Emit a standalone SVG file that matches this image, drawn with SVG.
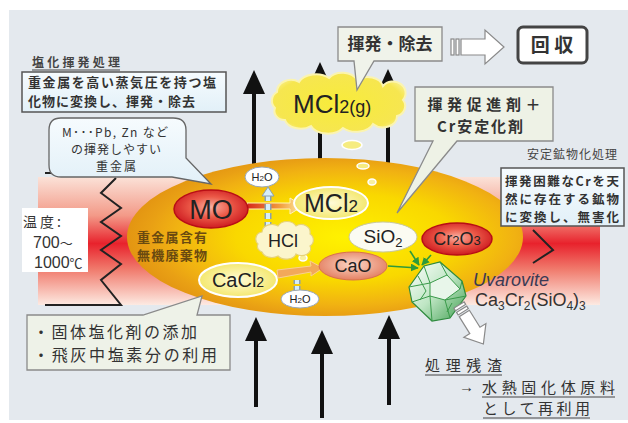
<svg xmlns="http://www.w3.org/2000/svg" width="628" height="423" viewBox="0 0 628 423">
  <defs>
    <linearGradient id="heat" x1="0" y1="0" x2="0" y2="1">
      <stop offset="0" stop-color="#fbe2d8"/>
      <stop offset="0.3" stop-color="#f39a88"/>
      <stop offset="0.52" stop-color="#e8222c"/>
      <stop offset="0.72" stop-color="#f07a6c"/>
      <stop offset="1" stop-color="#fdeae2"/>
    </linearGradient>
    <radialGradient id="furnace" cx="0.55" cy="0.5" r="0.55">
      <stop offset="0" stop-color="#fff200"/>
      <stop offset="0.5" stop-color="#f9d800"/>
      <stop offset="0.78" stop-color="#f1b212"/>
      <stop offset="0.9" stop-color="#e9a014"/>
      <stop offset="1" stop-color="#e39512"/>
    </radialGradient>
    <radialGradient id="red" cx="0.5" cy="0.45" r="0.6">
      <stop offset="0" stop-color="#f9b2a4"/>
      <stop offset="0.45" stop-color="#ec5a48"/>
      <stop offset="1" stop-color="#c8101a"/>
    </radialGradient>
    <radialGradient id="salmon" cx="0.5" cy="0.45" r="0.6">
      <stop offset="0" stop-color="#fbd6c6"/>
      <stop offset="1" stop-color="#e2795a"/>
    </radialGradient>
    <radialGradient id="pale" cx="0.5" cy="0.5" r="0.6">
      <stop offset="0" stop-color="#fffbd8"/>
      <stop offset="1" stop-color="#f2e45a"/>
    </radialGradient>
    <radialGradient id="cloudY" cx="0.5" cy="0.5" r="0.6">
      <stop offset="0" stop-color="#f8ec3a"/>
      <stop offset="0.8" stop-color="#f6e650"/>
      <stop offset="1" stop-color="#fbf3a0"/>
    </radialGradient>
    <linearGradient id="moArrow" x1="0" y1="0" x2="1" y2="0">
      <stop offset="0" stop-color="#d6281a"/>
      <stop offset="0.6" stop-color="#f2a040"/>
      <stop offset="1" stop-color="#fff0a8"/>
    </linearGradient>
    <linearGradient id="blueBox" x1="0" y1="0" x2="0" y2="1">
      <stop offset="0" stop-color="#f6fbfe"/>
      <stop offset="1" stop-color="#e2f0f8"/>
    </linearGradient>
    <linearGradient id="crystal" x1="0" y1="0" x2="1" y2="1">
      <stop offset="0" stop-color="#ffffff"/>
      <stop offset="0.5" stop-color="#bfe6c4"/>
      <stop offset="1" stop-color="#3f9e50"/>
    </linearGradient>
    <marker id="greenHead" viewBox="0 0 10 10" refX="9" refY="5" markerWidth="5" markerHeight="5" orient="auto">
      <path d="M0,0 L10,5 L0,10 Z" fill="#2e9a3a"/>
    </marker>
    <style>
      .jp { font-family: "Noto Sans CJK JP", "Noto Sans", sans-serif; fill: #333; }
      .b { font-weight: bold; }
      .lat { font-family: "Liberation Sans", Arial, sans-serif; fill: #222; }
      .num { font-family: "Liberation Sans", "Noto Sans CJK JP", sans-serif; fill: #333; }
      .call { stroke: #8a8a8a; stroke-width: 1.3; }
      .box { stroke: #555; stroke-width: 1.5; }
      .flow { stroke: #111; stroke-width: 4; fill: none; }
      .head { fill: #111; }
      .green { stroke: #2e9a3a; stroke-width: 1.6; fill: none; marker-end: url(#greenHead); }
      .ul { stroke: #444; stroke-width: 1.2; }
      .vap { fill: none; stroke-linecap: butt; }
      .bub { stroke: #ffffff; stroke-width: 1.5; }
    </style>
  </defs>

  <!-- page -->
  <rect x="0" y="0" width="628" height="423" fill="#ffffff"/>
  <rect x="9" y="10" width="619" height="410" fill="#e4e9ee"/>

  <!-- heater band with its outline zigzags -->
  <g id="heater">
    <rect x="38" y="177" width="562" height="128" fill="url(#heat)"/>
    <polyline points="45,173 112,173" fill="none" stroke="#222" stroke-width="2"/>
    <polyline points="116,178 101,193 121,208 101,222 121,236 101,250 121,264 101,280 121,305 45,305" fill="none" stroke="#222" stroke-width="2"/>
    <polyline points="533,230 553,250 533,263" fill="none" stroke="#222" stroke-width="2"/>
  </g>

  <!-- heat flow arrows -->
  <g id="connectors">
    <line class="flow" x1="254" y1="92" x2="254" y2="165"/>
    <polygon class="head" points="254,70 243,94 265,94"/>
    <line class="flow" x1="320" y1="84" x2="320" y2="160"/>
    <polygon class="head" points="320,62 309,86 331,86"/>
    <line class="flow" x1="388" y1="90" x2="388" y2="165"/>
    <polygon class="head" points="388,69 377,93 399,93"/>

    <line class="flow" x1="256" y1="338" x2="256" y2="407"/>
    <polygon class="head" points="256,317 245,341 267,341"/>
    <line class="flow" x1="322" y1="351" x2="322" y2="418"/>
    <polygon class="head" points="322,330 311,354 333,354"/>
    <line class="flow" x1="389" y1="336" x2="389" y2="405"/>
    <polygon class="head" points="389,315 378,339 400,339"/>
  </g>

  <!-- furnace body -->
  <g id="furnace-body">
    <ellipse cx="325" cy="237" rx="198" ry="79" fill="url(#furnace)"/>
    <text class="jp b" x="172" y="242" font-size="13" text-anchor="middle" textLength="70" style="fill:#6a4a10">重金属含有</text>
    <text class="jp b" x="172" y="260" font-size="13" text-anchor="middle" textLength="70" style="fill:#6a4a10">無機廃棄物</text>
  </g>

  <!-- small rising bubbles -->
  <g id="bubbles">
    <ellipse class="bub" cx="352" cy="145" rx="10" ry="4.5" fill="#f6ec80"/>
    <ellipse class="bub" cx="363" cy="166" rx="6" ry="3" fill="#f6ec80"/>
    <ellipse class="bub" cx="372" cy="182" rx="4" ry="3" fill="#f8f0a0"/>
    <ellipse class="bub" cx="303" cy="258" rx="4" ry="3" fill="#f8f0a0"/>
  </g>

  <!-- reaction arrows inside the furnace -->
  <g id="reactions">
    <path d="M247,203 H290 V198 L303,206 L290,214 V209 H247 Z" fill="url(#moArrow)" stroke="#fff4b8" stroke-width="1"/>
    <path d="M277,270 L311,266 L310,261 L323,268 L311,276 L311,272 L278,278 Z" fill="#f2a85a" stroke="#f8d090" stroke-width="1"/>
    <g class="vap">
      <line x1="268" y1="228" x2="268" y2="194" stroke="#8aa0b0" stroke-width="7" stroke-dasharray="6 3"/>
      <line x1="268" y1="228" x2="268" y2="194" stroke="#d6eefa" stroke-width="4" stroke-dasharray="6 3"/>
      <polygon points="268,187 262,196 274,196" fill="#d6eefa" stroke="#8aa0b0" stroke-width="1"/>
      <line x1="297" y1="290" x2="297" y2="280" stroke="#8aa0b0" stroke-width="7" stroke-dasharray="4 2"/>
      <line x1="297" y1="290" x2="297" y2="280" stroke="#d6eefa" stroke-width="4" stroke-dasharray="4 2"/>
    </g>
    <line class="green" x1="388" y1="266" x2="418" y2="268"/>
    <line class="green" x1="410" y1="251" x2="419" y2="265"/>
    <line class="green" x1="431" y1="255" x2="422" y2="265"/>
  </g>

  <!-- species -->
  <g id="h2o-top">
    <ellipse cx="262" cy="177" rx="17" ry="10" fill="#ffffff" stroke="#9aa8b8" stroke-width="1"/>
    <text class="lat" x="262" y="181" font-size="11" text-anchor="middle">H<tspan font-size="8">2</tspan>O</text>
  </g>
  <g id="mo">
    <ellipse cx="211" cy="209" rx="37" ry="19" fill="url(#red)" stroke="#b80e16" stroke-width="1.5"/>
    <text class="lat" x="211" y="219" font-size="27" text-anchor="middle">MO</text>
  </g>
  <g id="mcl2">
    <ellipse cx="331" cy="203" rx="37" ry="16" fill="url(#pale)" stroke="#ffffff" stroke-width="2"/>
    <text class="lat" x="331" y="212" font-size="25" text-anchor="middle">MCl<tspan font-size="17">2</tspan></text>
  </g>
  <g id="hcl">
    <path d="M258,244 a7,7 0 0 1 4,-12 a10,8 0 0 1 16,-6 a10,8 0 0 1 18,0 a9,8 0 0 1 14,8 a7,7 0 0 1 0,12 a9,7 0 0 1 -14,8 a10,7 0 0 1 -18,2 a10,7 0 0 1 -16,-4 a7,6 0 0 1 -4,-8 Z" fill="#fbf5cc" stroke="#e6d27a" stroke-width="1.2"/>
    <text class="lat" x="283" y="247" font-size="18" text-anchor="middle">HCl</text>
  </g>
  <g id="cacl2">
    <ellipse cx="238" cy="280" rx="39" ry="17" fill="url(#pale)" stroke="#ffffff" stroke-width="2"/>
    <text class="lat" x="238" y="287" font-size="20" text-anchor="middle">CaCl<tspan font-size="14">2</tspan></text>
  </g>
  <g id="h2o-bottom">
    <ellipse cx="300" cy="299" rx="19" ry="9" fill="#ffffff" stroke="#9aa8b8" stroke-width="1"/>
    <text class="lat" x="300" y="303" font-size="11" text-anchor="middle">H<tspan font-size="8">2</tspan>O</text>
  </g>
  <g id="cao">
    <ellipse cx="353" cy="266" rx="34" ry="14" fill="url(#salmon)" stroke="#d9714e" stroke-width="1"/>
    <text class="lat" x="353" y="272" font-size="18" text-anchor="middle">CaO</text>
  </g>
  <g id="sio2">
    <ellipse cx="383" cy="237" rx="34" ry="15" fill="#fbfbf2" stroke="#c8c8a0" stroke-width="1"/>
    <text class="lat" x="383" y="243" font-size="19" text-anchor="middle">SiO<tspan font-size="13" dy="4">2</tspan></text>
  </g>
  <g id="cr2o3">
    <ellipse cx="457" cy="239" rx="35" ry="16" fill="url(#red)" stroke="#b80e16" stroke-width="1.5"/>
    <text class="lat" x="457" y="245" font-size="18" text-anchor="middle">Cr<tspan font-size="13">2</tspan>O<tspan font-size="13">3</tspan></text>
  </g>

  <!-- uvarovite crystal -->
  <g id="uvarovite">
    <polygon points="409,287 424,266 440,262 462,281 466,296 450,318 432,321 412,302" fill="url(#crystal)" stroke="#2e8a3e" stroke-width="1.2"/>
    <polygon points="430,283 447,275 460,289 445,300 430,296" fill="#e8f6ea" stroke="#3a9a4a" stroke-width="1"/>
    <g fill="none" stroke="#3a9a4a" stroke-width="1">
      <polyline points="424,266 430,283"/>
      <polyline points="440,262 447,275"/>
      <polyline points="462,281 460,289"/>
      <polyline points="466,296 445,300 450,318"/>
      <polyline points="432,321 430,296 412,302"/>
      <polyline points="409,287 430,283"/>
      <polyline points="418,276 426,291 420,300"/>
      <polyline points="452,303 447,312"/>
    </g>
    <text class="lat" x="473" y="286" font-size="18" font-style="italic" style="fill:#3a3a55">Uvarovite</text>
    <text class="lat" x="475" y="306" font-size="18" style="fill:#333">Ca<tspan font-size="12" dy="4">3</tspan><tspan dy="-4">Cr</tspan><tspan font-size="12" dy="4">2</tspan><tspan dy="-4">(SiO</tspan><tspan font-size="12" dy="4">4</tspan><tspan dy="-4">)</tspan><tspan font-size="12" dy="4">3</tspan></text>
    <!-- residue outlet arrow -->
    <g transform="translate(459,305) rotate(58)" fill="#ffffff" stroke="#8a8a8a" stroke-width="1.2">
      <rect x="0" y="-6" width="3" height="12"/>
      <rect x="5" y="-6" width="3" height="12"/>
      <path d="M10,-6 H30 V-13 L46,0 L30,13 V6 H10 Z"/>
    </g>
  </g>

  <!-- volatilised chloride cloud -->
  <g id="mcl2-gas">
    <path d="M275,108 a10,10 0 0 1 2,-16 a14,12 0 0 1 22,-10 a18,12 0 0 1 30,-4 a16,12 0 0 1 28,2 a16,12 0 0 1 26,6 a12,11 0 0 1 20,14 a10,10 0 0 1 -6,16 a14,11 0 0 1 -24,8 a18,12 0 0 1 -30,4 a18,12 0 0 1 -32,-2 a16,11 0 0 1 -26,-6 a10,9 0 0 1 -10,-12 Z" fill="url(#cloudY)" stroke="#fbf4b0" stroke-width="2"/>
    <text class="lat" x="293" y="113" font-size="26">MCl<tspan font-size="18">2(g)</tspan></text>
  </g>

  <!-- volatilise / remove callout -->
  <g id="callout-remove">
    <path class="call" d="M338,27 H442 V61 H374 L357,90 L354,61 H338 Z" fill="#f0f3ea"/>
    <text class="jp b" x="390" y="50" font-size="17" text-anchor="middle">揮発・除去</text>
  </g>
  <g id="to-recovery">
    <g fill="#ffffff" stroke="#8a8a8a" stroke-width="1.2">
      <rect x="451" y="39" width="3" height="16"/>
      <rect x="456" y="39" width="3" height="16"/>
      <path d="M461,39 H485 V30 L504,47 L485,64 V55 H461 Z"/>
    </g>
  </g>
  <g id="recovery">
    <rect x="518" y="27" width="69" height="36" rx="5" fill="#ffffff" stroke="#444" stroke-width="3"/>
    <text class="jp b" x="552" y="52" font-size="19" text-anchor="middle">回 収</text>
  </g>

  <!-- chloride volatilisation note -->
  <g id="note-chlorination">
    <text class="jp b" x="32" y="67" font-size="12" textLength="88" style="fill:#444">塩化揮発処理</text>
    <line class="ul" x1="32" y1="70" x2="120" y2="70"/>
    <rect class="box" x="22" y="72" width="204" height="40" fill="url(#blueBox)"/>
    <text class="jp b" x="28" y="87" font-size="13" textLength="188">重金属を高い蒸気圧を持つ塩</text>
    <text class="jp b" x="28" y="106" font-size="13" textLength="167">化物に変換し、揮発・除去</text>
  </g>

  <!-- volatile heavy metals bubble -->
  <g id="note-metals">
    <path class="call" d="M61,118 H173 Q186,118 186,130 V158 L211,184 L172,177 H61 Q49,177 49,165 V130 Q49,118 61,118 Z" fill="url(#blueBox)" style="stroke:#666"/>
    <text class="jp" x="115" y="137" font-size="12" text-anchor="middle" textLength="106">M･･･Pb, Zn など</text>
    <text class="jp" x="116" y="154" font-size="12" text-anchor="middle" textLength="90">の揮発しやすい</text>
    <text class="jp" x="116" y="171" font-size="12" text-anchor="middle" textLength="40">重金属</text>
  </g>

  <!-- temperature label -->
  <g id="note-temperature">
    <rect x="22" y="208" width="66" height="64" fill="#ffffff"/>
    <text class="jp" x="23" y="227" font-size="14" textLength="38">温度:</text>
    <text class="num" x="33" y="248" font-size="16">700<tspan font-size="13">〜</tspan></text>
    <text class="num" x="34" y="268" font-size="16">1000<tspan font-size="13">℃</tspan></text>
  </g>

  <!-- chlorinating agent callout -->
  <g id="note-agents">
    <path class="call" d="M27,315 H143 L202,296 L197,315 H230 V370 H27 Z" fill="#eef2e8"/>
    <text class="jp" x="33" y="338" font-size="16" textLength="164">・固体塩化剤の添加</text>
    <text class="jp" x="33" y="361" font-size="16" textLength="184">・飛灰中塩素分の利用</text>
  </g>

  <!-- promoter / stabiliser callout -->
  <g id="note-stabiliser">
    <path class="call" d="M415,87 H553 V141 H457 L397,213 L433,141 H415 Z" fill="#eef2e6"/>
    <text class="jp b" x="484" y="110" font-size="15" text-anchor="middle" textLength="113">揮発促進剤＋</text>
    <text class="jp b" x="480" y="132" font-size="15" text-anchor="middle" textLength="86">Cr安定化剤</text>
  </g>

  <!-- stable mineralisation note -->
  <g id="note-mineral">
    <text class="jp" x="527" y="159" font-size="12" textLength="90" style="fill:#444">安定鉱物化処理</text>
    <rect class="box" x="501" y="168" width="123" height="58" fill="url(#blueBox)"/>
    <text class="jp b" x="505" y="186" font-size="12.5" textLength="114">揮発困難なCrを天</text>
    <text class="jp b" x="505" y="204" font-size="12.5" textLength="114">然に存在する鉱物</text>
    <text class="jp b" x="505" y="222" font-size="12.5" textLength="114">に変換し、無害化</text>
  </g>

  <!-- residue reuse note -->
  <g id="note-residue">
    <text class="jp" x="425" y="371" font-size="15" textLength="77">処理残渣</text>
    <line class="ul" x1="425" y1="375" x2="502" y2="375"/>
    <text class="num" x="459" y="392" font-size="15">→</text>
    <text class="jp" x="482" y="393" font-size="15" textLength="133">水熱固化体原料</text>
    <line class="ul" x1="482" y1="397" x2="615" y2="397"/>
    <text class="jp" x="483" y="414" font-size="15" textLength="107">として再利用</text>
    <line class="ul" x1="483" y1="418" x2="590" y2="418"/>
  </g>
</svg>
